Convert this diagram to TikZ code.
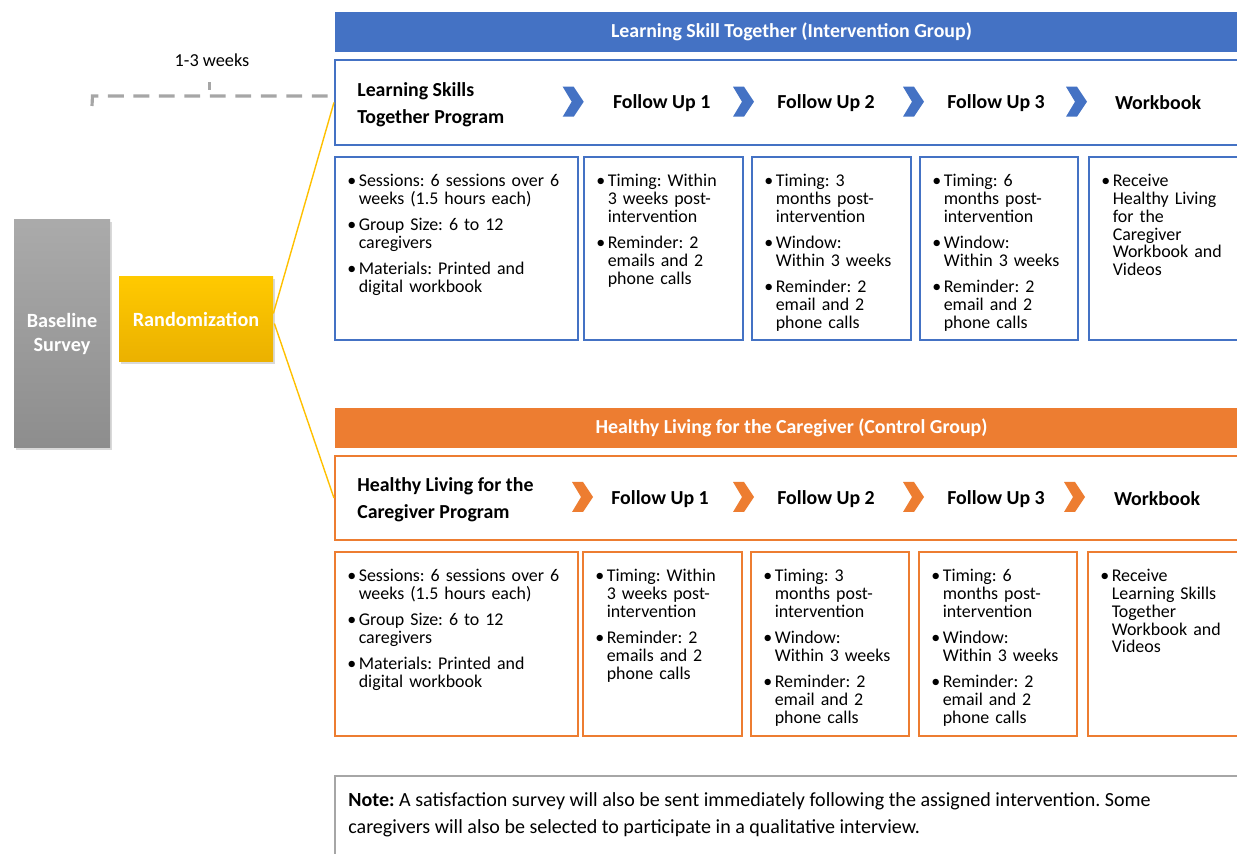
\documentclass[tikz,border=0pt]{standalone}
\usepackage{fontspec}
\setmainfont{Carlito}
\usepackage{tikz}
\usetikzlibrary{positioning,shadows,fit}

\definecolor{lstblue}{HTML}{4472C4}
\definecolor{hlcorange}{HTML}{ED7D31}
\definecolor{randgold}{HTML}{FFC000}
\definecolor{lagray}{HTML}{A6A6A6}

\frenchspacing

% one bullet point, later lines hang under the text
\newcommand{\itm}[1]{\par\hangindent=6.5pt\hangafter=1\noindent\makebox[6.5pt][l]{\textbullet}#1\par\vspace{4.7pt}}
% tight line spacing, fixed from baseline to baseline
\newcommand{\tightlines}{\lineskiplimit=-20pt\lineskip=0pt}

\tikzset{
	band/.style={fit={#1},inner sep=0pt},
	bandtext/.style={text=white,font=\fontsize{11.3}{13}\selectfont\bfseries},
	progbox/.style={fit={#1},inner sep=0pt,line width=1.2pt,fill=white},
	stepname/.style={font=\fontsize{11.3}{15.3}\selectfont\bfseries,align=left,inner sep=0pt},
	detail/.style={fit={#1},inner sep=0pt,line width=1.1pt},
	itemtext/.style={anchor=north west,inner sep=0pt,text width=5cm,align=left,font=\fontsize{10.2}{10.2}\selectfont\tightlines},
	chev/.pic={\fill (0,0) -- (11,0) -- (21,15) -- (11,30) -- (0,30) -- (9,15) -- cycle;},
	goldline/.style={draw=randgold,line width=0.8pt},
	brace/.style={draw=lagray,line width=1.8pt},
	boxshadow/.style={drop shadow={shadow xshift=1.2pt,shadow yshift=-1.2pt,opacity=0.3}}
}

\begin{document}
\begin{tikzpicture}[x=0.02cm,y=-0.02cm]
	\useasboundingbox (0,0) rectangle (1237,854);
	\clip (0,0) rectangle (1237,854);

	% survey and randomization
	\node(base) [fit={(14,220)(110,448)},inner sep=0pt,top color=lagray!95!white,bottom color=lagray!85!black,boxshadow] {};
	\node at (base.center) [bandtext,font=\fontsize{11.5}{14}\selectfont\bfseries,align=center] {Baseline\\Survey};
	\node(rand) [fit={(119,277)(273,362)},inner sep=0pt,top color=randgold!85!yellow,bottom color=randgold!92!black,boxshadow] {};
	\node at (rand.center) [bandtext,font=\fontsize{11.5}{14}\selectfont\bfseries] {Randomization};

	% 1-3 weeks brace
	\coordinate(bl) at (92,106);
	\coordinate(br) at (326,105);
	\draw[brace,dash pattern=on 9pt off 5.5pt] (bl) -- (92.5,96) -- (326,96) -- (br);
	\draw[brace] (209.5,90) -- (209.5,82);
	\node(wk) at (212,60) [font=\fontsize{10.4}{12}\selectfont] {1-3 weeks};

	% intervention group
	\node(hdrA) [band={(335,12)(1248,52)},fill=lstblue] {};
	\node at (hdrA.center) [bandtext] {Learning Skill Together (Intervention Group)};
	\node(progA) [progbox={(335,60)(1248,145)},draw=lstblue] {};
	\node(lblA) [stepname,anchor=west] at (357,105) {Learning Skills\\Together Program};
	\pic[fill=lstblue] at (562.7,86.7) {chev};
	\node(fA1) [stepname] at (661.7,103) {Follow Up 1};
	\pic[fill=lstblue] at (733,86.7) {chev};
	\node(fA2) [stepname] at (826,103) {Follow Up 2};
	\pic[fill=lstblue] at (903,86.7) {chev};
	\node(fA3) [stepname] at (996,103) {Follow Up 3};
	\pic[fill=lstblue] at (1066,86.7) {chev};
	\node(wbA) [stepname] at (1158,103) {Workbook};

	\node(dA1) [detail={(335,157)(578,340)},draw=lstblue] {};
	\node(dA2) [detail={(584,157)(743,340)},draw=lstblue] {};
	\node(dA3) [detail={(752,157)(911,340)},draw=lstblue] {};
	\node(dA4) [detail={(920,157)(1078,340)},draw=lstblue] {};
	\node(dA5) [detail={(1089,157)(1250,340)},draw=lstblue] {};
	\node(tA1) [itemtext] at ([shift={(13,12)}]dA1.north west) {%
		\itm{Sessions: 6 sessions over 6\newline weeks (1.5 hours each)}
		\itm{Group Size: 6 to 12\newline caregivers}
		\itm{Materials: Printed and\newline digital workbook}};
	\node(tA2) [itemtext] at ([shift={(13,12)}]dA2.north west) {%
		\itm{Timing: Within\newline 3 weeks post-\newline intervention}
		\itm{Reminder: 2\newline emails and 2\newline phone calls}};
	\node(tA3) [itemtext] at ([shift={(13,12)}]dA3.north west) {%
		\itm{Timing: 3\newline months post-\newline intervention}
		\itm{Window:\newline Within 3 weeks}
		\itm{Reminder: 2\newline email and 2\newline phone calls}};
	\node(tA4) [itemtext] at ([shift={(13,12)}]dA4.north west) {%
		\itm{Timing: 6\newline months post-\newline intervention}
		\itm{Window:\newline Within 3 weeks}
		\itm{Reminder: 2\newline email and 2\newline phone calls}};
	\node(tA5) [itemtext] at ([shift={(13,12)}]dA5.north west) {%
		\itm{Receive\newline Healthy Living\newline for the\newline Caregiver\newline Workbook and\newline Videos}};

	% control group
	\node(hdrB) [band={(335,408)(1248,448)},fill=hlcorange] {};
	\node at (hdrB.center) [bandtext] {Healthy Living for the Caregiver (Control Group)};
	\node(progB) [progbox={(335,456)(1248,540)},draw=hlcorange] {};
	\node(lblB) [stepname,anchor=west] at (357,500) {Healthy Living for the\\Caregiver Program};
	\pic[fill=hlcorange] at (572,482) {chev};
	\node(fB1) [stepname] at (660,499) {Follow Up 1};
	\pic[fill=hlcorange] at (733,482) {chev};
	\node(fB2) [stepname] at (826,499) {Follow Up 2};
	\pic[fill=hlcorange] at (903,482) {chev};
	\node(fB3) [stepname] at (996,499) {Follow Up 3};
	\pic[fill=hlcorange] at (1064,482) {chev};
	\node(wbB) [stepname] at (1157,499) {Workbook};

	\node(dB1) [detail={(335,552)(578,736)},draw=hlcorange] {};
	\node(dB2) [detail={(583,552)(742,736)},draw=hlcorange] {};
	\node(dB3) [detail={(751,552)(909,736)},draw=hlcorange] {};
	\node(dB4) [detail={(919,552)(1077,736)},draw=hlcorange] {};
	\node(dB5) [detail={(1088,552)(1250,736)},draw=hlcorange] {};
	\node(tB1) [itemtext] at ([shift={(13,12)}]dB1.north west) {%
		\itm{Sessions: 6 sessions over 6\newline weeks (1.5 hours each)}
		\itm{Group Size: 6 to 12\newline caregivers}
		\itm{Materials: Printed and\newline digital workbook}};
	\node(tB2) [itemtext] at ([shift={(13,12)}]dB2.north west) {%
		\itm{Timing: Within\newline 3 weeks post-\newline intervention}
		\itm{Reminder: 2\newline emails and 2\newline phone calls}};
	\node(tB3) [itemtext] at ([shift={(13,12)}]dB3.north west) {%
		\itm{Timing: 3\newline months post-\newline intervention}
		\itm{Window:\newline Within 3 weeks}
		\itm{Reminder: 2\newline email and 2\newline phone calls}};
	\node(tB4) [itemtext] at ([shift={(13,12)}]dB4.north west) {%
		\itm{Timing: 6\newline months post-\newline intervention}
		\itm{Window:\newline Within 3 weeks}
		\itm{Reminder: 2\newline email and 2\newline phone calls}};
	\node(tB5) [itemtext] at ([shift={(13,12)}]dB5.north west) {%
		\itm{Receive\newline Learning Skills\newline Together\newline Workbook and\newline Videos}};

	% randomization splits into the two arms
	\draw[goldline] ([shift={(0,-6)}]rand.east) -- (progA.west);
	\draw[goldline] ([shift={(1,4)}]rand.east) -- (progB.west);

	% note
	\node(note) [fit={(335,776)(1250,880)},inner sep=0pt,draw=lagray,line width=1.1pt] {};
	\node(notetxt) [anchor=north west,inner sep=0pt,align=left,font=\fontsize{11.4}{15.3}\selectfont] at (348,792) {\textbf{Note:} A satisfaction survey will also be sent immediately following the assigned intervention. Some\\caregivers will also be selected to participate in a qualitative interview.};
\end{tikzpicture}
\end{document}
